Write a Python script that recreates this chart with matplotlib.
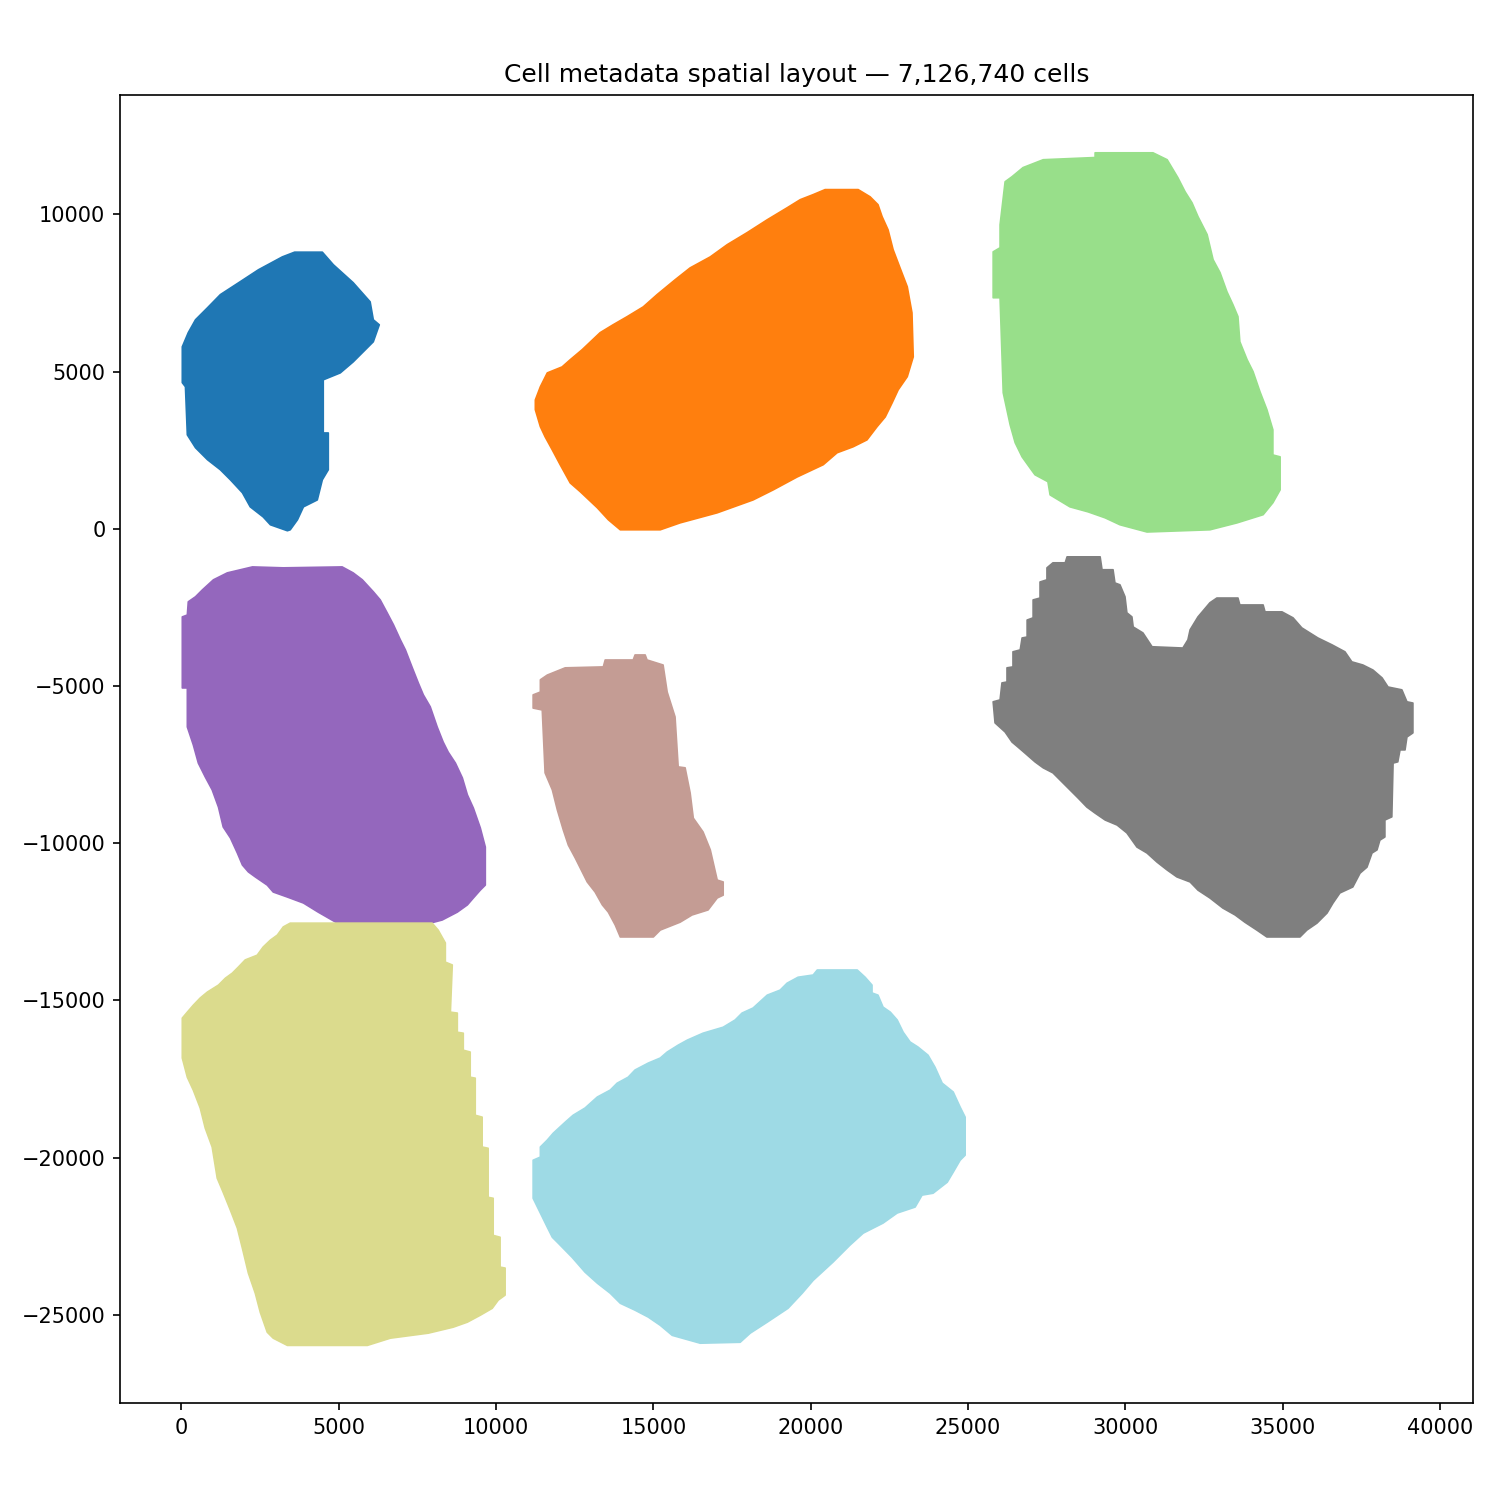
import numpy as np
import matplotlib
matplotlib.use("Agg")
from matplotlib import pyplot as plt

# outline of each tissue section (x, y) in spatial units
section0 = [(3600, 8800), (4480, 8800), (4830, 8400), (5460, 7830), (6000, 7220), (6100, 6650),
            (6290, 6490), (6100, 5950), (5460, 5310), (5050, 4960), (4510, 4740), (4510, 3050),
            (4670, 3050), (4670, 1880), (4480, 1560), (4320, 920), (3880, 700), (3690, 290),
            (3460, -30), (3370, -60), (2830, 130), (2600, 380), (2190, 700), (1940, 1150),
            (1560, 1560), (1240, 1880), (830, 2200), (450, 2580), (190, 2990), (130, 4520),
            (30, 4650), (30, 5790), (220, 6240), (450, 6650), (830, 7030), (1240, 7450),
            (1870, 7860), (2450, 8240), (3210, 8650)]

section1 = [(20460, 10790), (21510, 10790), (21890, 10560), (22140, 10310), (22270, 9930),
            (22460, 9510), (22620, 8880), (22840, 8300), (23070, 7700), (23220, 6870),
            (23260, 5470), (23070, 4840), (22780, 4420), (22590, 4010), (22370, 3560),
            (22110, 3250), (21790, 2830), (21350, 2610), (20840, 2420), (20400, 2040),
            (19570, 1650), (18810, 1240), (18170, 920), (17030, 510), (15850, 190),
            (15220, -30), (13950, -30), (13570, 290), (13220, 670), (12680, 1180),
            (12360, 1460), (12040, 2040), (11790, 2510), (11560, 2930), (11410, 3250),
            (11250, 3790), (11250, 4100), (11410, 4520), (11630, 4960), (12100, 5150),
            (12360, 5380), (12740, 5700), (13310, 6240), (13720, 6490), (14170, 6750),
            (14680, 7060), (15120, 7450), (15690, 7920), (16170, 8300), (16810, 8650),
            (17350, 9040), (17980, 9420), (18620, 9830), (19250, 10210), (19670, 10470),
            (20080, 10630)]

section2 = [(29040, 11960), (30880, 11960), (31330, 11740), (31670, 11170), (31900, 10720),
            (32120, 10370), (32310, 9930), (32600, 9360), (32790, 8560), (33010, 8150),
            (33230, 7540), (33420, 7130), (33580, 6750), (33640, 5950), (33870, 5380),
            (34060, 5000), (34280, 4360), (34500, 3790), (34690, 3150), (34690, 2350),
            (34920, 2290), (34920, 1240), (34690, 830), (34380, 450), (33550, 190),
            (32690, -30), (30690, -100), (29830, 130), (29360, 350), (28820, 540),
            (28240, 700), (27610, 1080), (27540, 1500), (27130, 1720), (26970, 1940),
            (26720, 2290), (26500, 2740), (26340, 3310), (26120, 4330), (26020, 7350),
            (25800, 7350), (25800, 8810), (26020, 8940), (26020, 9670), (26180, 11040),
            (26400, 11200), (26750, 11490), (27390, 11740), (29040, 11810)]

section3 = [(2260, -1210), (3240, -1240), (5110, -1210), (5460, -1400), (5750, -1620),
            (6100, -2000), (6320, -2260), (6540, -2670), (6740, -3050), (6960, -3530),
            (7120, -3850), (7340, -4420), (7530, -4900), (7690, -5280), (7910, -5660),
            (8130, -6300), (8320, -6780), (8480, -7100), (8710, -7450), (8930, -7920),
            (9090, -8460), (9280, -8880), (9500, -9510), (9660, -10120), (9660, -11330),
            (9500, -11490), (9280, -11740), (9090, -11960), (8770, -12190), (8290, -12440),
            (7910, -12540), (4960, -12540), (4350, -12190), (3880, -11900), (3370, -11710),
            (2920, -11550), (2730, -11330), (2350, -11070), (2130, -10910), (1940, -10690),
            (1780, -10310), (1560, -9830), (1330, -9480), (1180, -8850), (980, -8300),
            (760, -7890), (540, -7450), (380, -6870), (190, -6300), (190, -5060),
            (30, -5060), (30, -2800), (190, -2740), (220, -2320), (450, -2160),
            (670, -1940), (1020, -1620), (1460, -1400)]

section4 = [(14420, -4010), (14740, -4010), (14800, -4170), (15310, -4330), (15440, -5190),
            (15690, -5980), (15790, -7570), (16010, -7600), (16170, -8400), (16270, -9200),
            (16580, -9640), (16810, -10210), (17030, -11170), (17220, -11230), (17220, -11650),
            (17030, -11740), (16740, -12120), (16230, -12280), (15850, -12510), (15220, -12760),
            (15000, -12980), (13950, -12980), (13790, -12600), (13570, -12190), (13380, -11960),
            (13150, -11550), (12900, -11230), (12680, -10790), (12520, -10470), (12300, -10060),
            (12140, -9580), (11950, -8940), (11790, -8300), (11560, -7760), (11470, -5760),
            (11180, -5700), (11180, -5280), (11410, -5190), (11410, -4800), (11630, -4650),
            (12200, -4420), (13410, -4390), (13470, -4170), (14360, -4170)]

section5 = [(28150, -890), (29200, -890), (29260, -1300), (29610, -1300), (29670, -1720),
            (29830, -1780), (29990, -2160), (30050, -2670), (30210, -2800), (30250, -3120),
            (30560, -3310), (30850, -3750), (31830, -3790), (31990, -3530), (32060, -3210),
            (32310, -2800), (32690, -2350), (32910, -2200), (33580, -2200), (33640, -2420),
            (34380, -2420), (34440, -2640), (34980, -2640), (35330, -2830), (35610, -3150),
            (36120, -3470), (36570, -3690), (36980, -3910), (37200, -4230), (37550, -4330),
            (37870, -4490), (38160, -4740), (38350, -5030), (38790, -5120), (38950, -5500),
            (39140, -5540), (39140, -6490), (38950, -6620), (38890, -7030), (38730, -7030),
            (38660, -7410), (38510, -7450), (38470, -9160), (38250, -9260), (38250, -9800),
            (38090, -9900), (38000, -10210), (37840, -10310), (37680, -10760), (37460, -10950),
            (37230, -11390), (36820, -11580), (36600, -11900), (36410, -12220), (36090, -12540),
            (35770, -12760), (35550, -12980), (34500, -12980), (34180, -12760), (33800, -12510),
            (33490, -12280), (33100, -12060), (32690, -11740), (32310, -11490), (32060, -11230),
            (31640, -11070), (31330, -10850), (31010, -10600), (30690, -10310), (30370, -10120),
            (30050, -9670), (29740, -9420), (29360, -9260), (29040, -9040), (28780, -8850),
            (28500, -8560), (28180, -8240), (27930, -7990), (27700, -7760), (27390, -7600),
            (27130, -7410), (26810, -7130), (26590, -6940), (26400, -6780), (26180, -6460),
            (25860, -6170), (25800, -5500), (26020, -5440), (26080, -4900), (26240, -4870),
            (26240, -4420), (26430, -4390), (26430, -3910), (26660, -3850), (26720, -3470),
            (26880, -3440), (26880, -2900), (27070, -2830), (27070, -2260), (27290, -2200),
            (27290, -1690), (27510, -1620), (27510, -1240), (27700, -1080), (28090, -1080)]

section6 = [(3460, -12540), (7970, -12540), (8160, -12760), (8390, -13170), (8390, -13780),
            (8610, -13870), (8550, -15370), (8770, -15400), (8770, -16010), (8960, -16040),
            (8960, -16580), (9180, -16640), (9180, -17440), (9340, -17470), (9340, -18650),
            (9560, -18710), (9560, -19660), (9750, -19700), (9750, -21260), (9910, -21290),
            (9910, -22470), (10130, -22530), (10130, -23480), (10290, -23510), (10290, -24370),
            (10070, -24530), (9880, -24790), (9500, -25010), (9090, -25230), (8640, -25390),
            (7850, -25580), (6640, -25740), (5910, -25970), (3370, -25970), (2920, -25740),
            (2730, -25550), (2510, -24920), (2350, -24310), (2130, -23670), (1940, -22880),
            (1780, -22240), (1560, -21670), (1330, -21100), (1140, -20650), (980, -19660),
            (760, -19060), (600, -18420), (380, -17850), (190, -17440), (30, -16830),
            (30, -15560), (190, -15370), (380, -15150), (600, -14920), (830, -14730),
            (1180, -14510), (1400, -14290), (1620, -14130), (1810, -13940), (2030, -13710),
            (2410, -13560), (2600, -13300), (2830, -13080), (3050, -12920), (3240, -12660)]

section7 = [(20210, -14030), (21480, -14030), (21730, -14260), (21950, -14510), (21950, -14760),
            (22140, -14830), (22300, -15210), (22530, -15370), (22750, -15620), (22940, -16010),
            (23160, -16320), (23410, -16480), (23730, -16740), (23950, -17120), (24180, -17630),
            (24530, -17910), (24750, -18390), (24910, -18710), (24910, -19920), (24750, -20080),
            (24530, -20460), (24340, -20780), (23890, -21130), (23540, -21190), (23320, -21570),
            (22750, -21760), (22300, -22080), (21670, -22400), (21250, -22780), (20710, -23320),
            (20080, -23900), (19730, -24310), (19280, -24790), (18620, -25230), (18080, -25580),
            (17760, -25870), (16490, -25900), (15600, -25650), (15220, -25330), (14840, -25070),
            (14420, -24850), (13950, -24630), (13630, -24310), (13220, -23990), (12830, -23640),
            (12420, -23170), (11980, -22720), (11790, -22530), (11630, -22210), (11410, -21760),
            (11180, -21290), (11180, -20080), (11410, -19980), (11410, -19660), (11630, -19440),
            (11820, -19220), (12200, -18870), (12450, -18650), (12830, -18420), (13220, -18070),
            (13630, -17850), (13850, -17630), (14200, -17440), (14420, -17210), (14840, -16990),
            (15220, -16830), (15440, -16640), (15790, -16420), (16080, -16260), (16580, -16040),
            (17220, -15850), (17600, -15620), (17820, -15400), (18170, -15240), (18620, -14830),
            (19030, -14670), (19250, -14450), (19600, -14260), (20080, -14190)]

sections = [section0, section1, section2, section3, section4, section5, section6, section7]
n_cells = 7126740

fig = plt.figure(figsize=(10, 10), dpi=150)
ax = fig.add_axes([0.08, 0.0647, 0.902, 0.872])

cmap = plt.get_cmap('tab20')
for i, outline in enumerate(sections):
    pts = np.array(outline)
    col = cmap(i / (len(sections) - 1))
    ax.fill(pts[:, 0], pts[:, 1], color=col, lw=0.8, joinstyle='round')

ax.set_xlim(-1950, 41050)
ax.set_ylim(-27800, 13800)
ax.set_title('Cell metadata spatial layout \u2014 {:,} cells'.format(n_cells))

fig.savefig('out.png', dpi=150)
